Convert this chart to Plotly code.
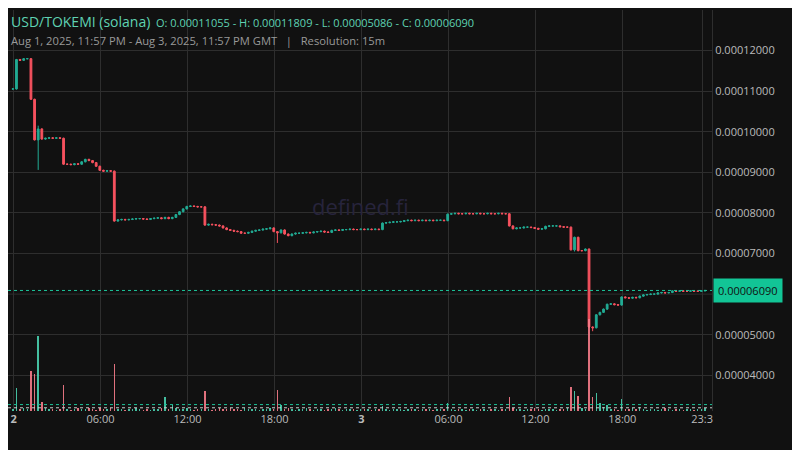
import pandas as pd
import plotly.graph_objects as go

# closes in units of 1e-6
closes = [110.55,117.8,117.6,118.0,118.0,108.0,98.0,100.7,98.2,98.4,
98.5,98.4,98.5,98.4,92.0,92.0,91.9,92.1,92.0,92.6,
93.2,92.9,92.4,91.5,90.5,90.3,90.4,90.3,78.0,78.3,
78.4,78.3,78.4,78.5,78.6,78.6,78.5,78.4,78.6,78.7,
78.8,78.6,78.9,78.6,78.9,79.6,80.3,81.0,81.6,81.7,
81.6,81.5,81.5,77.0,77.2,77.1,77.0,76.8,76.3,75.9,
75.7,75.5,75.4,75.0,75.0,75.2,75.5,75.7,75.8,76.0,
76.1,76.3,75.4,75.1,75.8,74.8,74.4,74.8,75.0,75.0,
75.1,75.2,75.1,75.3,75.4,75.5,75.3,75.2,75.7,75.8,
75.7,75.9,75.9,76.0,75.9,75.9,76.0,75.9,76.0,75.9,
76.0,75.9,77.5,77.6,77.7,77.8,77.8,77.9,78.1,78.2,
78.1,78.2,78.1,78.2,78.1,78.2,78.1,78.2,78.2,78.1,
79.7,79.8,79.9,79.8,79.8,79.9,79.8,79.8,79.9,79.8,
79.8,79.9,79.8,79.8,79.9,79.8,79.8,76.8,76.1,76.3,
76.3,76.5,76.5,76.4,76.2,76.0,76.1,76.7,76.8,76.8,
76.8,76.6,76.5,76.5,70.9,74.0,70.7,70.7,71.1,51.9,
51.7,54.9,55.5,56.3,57.5,57.6,57.4,57.3,59.3,59.1,
59.0,59.2,59.1,59.5,59.8,59.9,60.0,60.0,60.3,60.4,
60.3,60.4,60.8,60.7,60.8,60.7,60.7,60.8,60.7,60.7,
60.8,60.90]
first_open = 110.55
special_high = {3: 118.09, 7: 101.5}
special_low = {7: 90.6, 73: 72.6, 155: 70.5, 160: 50.86}
volumes = [2,23,2,3,2,40,37,75,9,3,2,2,1,2,26,2,1,2,3,2,
2,3,2,1,3,2,2,3,47,2,2,1,2,2,3,2,1,2,1,2,
2,3,14,2,6,3,2,2,3,2,1,2,2,20,2,1,2,3,2,2,
3,2,2,1,3,2,2,2,1,2,2,3,2,21,6,2,3,2,1,2,
2,3,2,1,2,2,1,2,2,3,2,1,2,2,2,1,2,2,2,1,
2,2,5,2,1,2,2,2,1,2,2,2,1,2,2,2,1,2,2,2,
8,2,1,2,2,1,2,2,1,2,2,1,2,2,1,2,2,14,3,2,
2,1,2,2,3,2,1,2,2,2,1,2,2,3,24,20,15,3,2,92,
14,18,8,4,6,2,2,1,12,2,2,3,2,4,2,1,2,2,1,2,
3,2,1,2,2,1,2,2,1,2,2,3]
price_ticks = [40, 50, 70, 80, 90, 100, 110, 120, 130]

n = len(closes)
times = pd.date_range("2025-08-01 23:57", periods=n, freq="15min")
opens = [first_open] + closes[:-1]
highs, lows = [], []
for i in range(n):
    hi = max(opens[i], closes[i]) + 0.15
    lo = min(opens[i], closes[i]) - 0.15
    highs.append(special_high.get(i, hi))
    lows.append(special_low.get(i, lo))
sc = 1e-6
o = [v*sc for v in opens]; h = [v*sc for v in highs]
l = [v*sc for v in lows]; c = [v*sc for v in closes]
GREEN, RED = "#22ab94", "#f7525f"
vcol = ["rgba(74,210,176,0.9)" if closes[i] >= opens[i] else "rgba(247,124,138,0.9)" for i in range(n)]

fig = go.Figure()
fig.add_trace(go.Bar(x=times, y=volumes, marker_color=vcol, marker_line_width=0,
                     yaxis="y2", width=15*60*1000*0.4, showlegend=False))
fig.add_trace(go.Candlestick(x=times, open=o, high=h, low=l, close=c,
    increasing=dict(line=dict(color=GREEN, width=1), fillcolor=GREEN),
    decreasing=dict(line=dict(color=RED, width=1), fillcolor=RED),
    whiskerwidth=0, showlegend=False))

last = c[-1]
fig.add_shape(type="line", xref="paper", x0=0, x1=1, y0=last, y1=last,
              line=dict(color="#1dc49a", width=1, dash="dot"))
fig.add_shape(type="line", xref="paper", yref="paper", x0=0, x1=1, y0=0.008, y1=0.008,
              line=dict(color="#cccccc", width=1, dash="dot"))
fig.add_shape(type="line", xref="paper", yref="paper", x0=0, x1=1, y0=0.016, y1=0.016,
              line=dict(color="#1dc49a", width=1, dash="dot"))

tickvals = ["2025-08-02 00:00","2025-08-02 06:00","2025-08-02 12:00","2025-08-02 18:00",
            "2025-08-03 00:00","2025-08-03 06:00","2025-08-03 12:00","2025-08-03 18:00","2025-08-03 23:30"]
ticktext = ["<b>2</b>","06:00","12:00","18:00","<b>3</b>","06:00","12:00","18:00","23:3"]

fig.update_layout(
    width=800, height=450, paper_bgcolor="#111111", plot_bgcolor="#111111",
    margin=dict(l=0, r=96, t=2, b=47, autoexpand=False),
    font=dict(family="Open Sans", color="#cccccc", size=11),
    xaxis=dict(type="date", range=["2025-08-01 23:37", "2025-08-04 00:11"],
               tickvals=tickvals, ticktext=ticktext, showgrid=True, gridcolor="#2e2e2e",
               rangeslider=dict(visible=False), showline=False, zeroline=False,
               tickfont=dict(color="#bbbbbb", size=11), ticks="", automargin=False),
    yaxis=dict(side="right", range=[31.2e-6, 130e-6],
               tickvals=[v*sc for v in price_ticks], tickformat=".8f",
               showgrid=True, gridcolor="#2e2e2e", zeroline=False, automargin=False,
               showline=True, linecolor="#2e2e2e", tickfont=dict(color="#bbbbbb", size=11)),
    yaxis2=dict(overlaying="y", range=[0, 401], visible=False, showgrid=False),
    bargap=0,
)
fig.add_shape(type="line", xref="paper", yref="y", x0=0, x1=1, y0=60e-6, y1=60e-6,
              line=dict(color="#2e2e2e", width=1), layer="below")
fig.add_annotation(xref="paper", yref="paper", x=0.5, y=0.51, text="defined.fi",
                   showarrow=False, font=dict(size=22, color="#27243c"))
fig.add_annotation(xref="paper", yref="y", x=1.0, y=last, xanchor="left", yanchor="middle",
                   text="0.00006090", showarrow=False, bgcolor="#12c596",
                   font=dict(color="#111111", size=11), borderpad=4, xshift=1)
fig.add_annotation(xref="paper", yref="paper", x=0.0, y=1.0, xanchor="left", yanchor="top",
                   showarrow=False, yshift=0, xshift=1,
                   text="<span style='font-size:14px'>USD/TOKEMI (solana)</span>  O: 0.00011055 - H: 0.00011809 - L: 0.00005086 - C: 0.00006090",
                   font=dict(color="#5fd3b3", size=11))
fig.add_annotation(xref="paper", yref="paper", x=0.0, y=1.0, xanchor="left", yanchor="top",
                   showarrow=False, yshift=-21, xshift=1,
                   text="Aug 1, 2025, 11:57 PM - Aug 3, 2025, 11:57 PM GMT   |   Resolution: 15m",
                   font=dict(color="#999999", size=11.2))
fig.write_html("out.html")
